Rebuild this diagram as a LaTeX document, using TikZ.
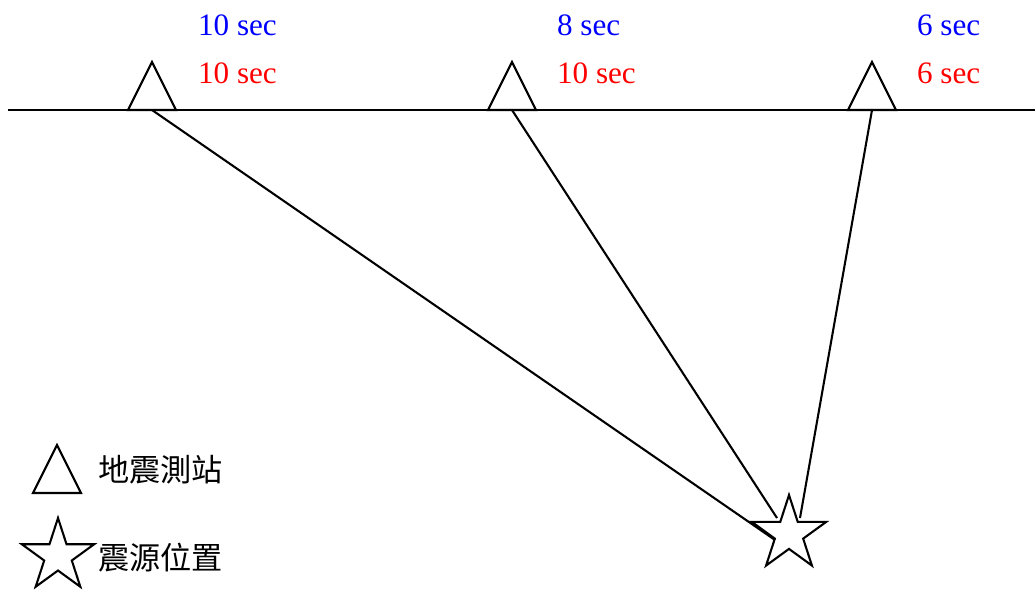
\documentclass[tikz,border=0pt]{standalone}
\usepackage{fontspec}
\setmainfont{Liberation Serif}
\newfontfamily\cjk{Noto Sans CJK TC}
\usetikzlibrary{shapes.geometric}

\begin{document}
\begin{tikzpicture}[x=0.385pt,y=-0.385pt,line width=0.8pt,
    font=\fontsize{12}{14}\selectfont,
    quake/.style={star,star points=5,star point ratio=2.618,draw,inner sep=0pt},
    tlabel/.style={anchor=west,inner sep=0pt}]
  \useasboundingbox (0,0) rectangle (1035,590);
  \def\Gy{110}  % ground level
  \def\Th{48}   % station height
  \def\Tw{24}   % half base of station
  % ground
  \draw (8,\Gy) -- (1035,\Gy);
  % stations (base centres)
  \coordinate (s1) at (152,\Gy);
  \coordinate (s2) at (512,\Gy);
  \coordinate (s3) at (872,\Gy);
  \foreach \s in {s1,s2,s3}
    \draw ([xshift=-\Tw*0.385pt]\s) -- ([yshift=\Th*0.385pt]\s) -- ([xshift=\Tw*0.385pt]\s) -- cycle;
  % epicentre
  \node[quake,minimum size=78*0.385pt] (epi) at (789,534) {};
  \coordinate (e1) at (775,540);
  \coordinate (e2) at (777,518);
  \coordinate (e3) at (800,518);
  % rays
  \draw (s1) -- (e1);
  \draw (s2) -- (e2);
  \draw (s3) -- (e3);
  % travel times
  \node[tlabel,text=blue] (b1) at (197,25) {10 sec};
  \node[tlabel,text=red]  (r1) at (197,73) {10 sec};
  \node[tlabel,text=blue] (b2) at (556,25) {8 sec};
  \node[tlabel,text=red]  (r2) at (556,73) {10 sec};
  \node[tlabel,text=blue] (b3) at (916,25) {6 sec};
  \node[tlabel,text=red]  (r3) at (916,73) {6 sec};
  % legend
  \coordinate (lt) at (57,493);
  \draw ([xshift=-\Tw*0.385pt]lt) -- ([yshift=\Th*0.385pt]lt) -- ([xshift=\Tw*0.385pt]lt) -- cycle;
  \node[tlabel] (lt text) at (97,470) {\cjk 地震測站};
  \node[quake,minimum size=76*0.385pt] (ls) at (58,556) {};
  \node[tlabel] (ls text) at (97,558) {\cjk 震源位置};
\end{tikzpicture}
\end{document}
